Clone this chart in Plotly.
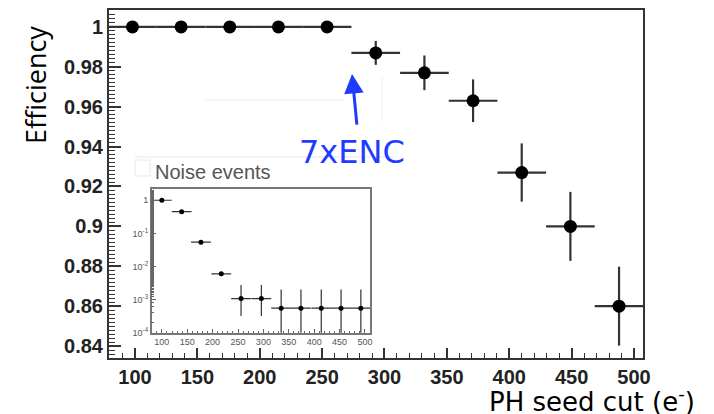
import plotly.graph_objects as go

# ---- main panel data: efficiency vs PH seed cut ----
seed_cut = [98, 137, 176, 215, 254, 293, 332, 371, 410, 449, 488]
efficiency = [1.0, 1.0, 1.0, 1.0, 1.0, 0.987, 0.977, 0.963, 0.927, 0.900, 0.860]
eff_err = [0, 0, 0, 0, 0, 0.006, 0.0087, 0.0107, 0.0146, 0.0173, 0.0198]
bin_half_width = [19.5] * 11

y_tickvals = [0.84, 0.86, 0.88, 0.90, 0.92, 0.94, 0.96, 0.98, 1.0]
y_ticktext = ["0.84", "0.86", "0.88", "0.9", "0.92", "0.94", "0.96", "0.98", "1"]
x_tickvals = [100, 150, 200, 250, 300, 350, 400, 450, 500]

# ---- inset data: noise events ----
noise_x = [100, 139, 177, 217, 256, 296, 335, 374, 414, 453, 492]
noise_frac = [1.0, 0.45, 0.054, 0.006, 0.00107, 0.00107,
              0.00055, 0.00055, 0.00055, 0.00055, 0.00055]
noise_err_plus = [0, 0, 0, 0, 0.0017, 0.0017,
                  0.00145, 0.00145, 0.00145, 0.00145, 0.00145]
noise_err_minus = [0, 0, 0, 0, 0.00075, 0.00075,
                   0.000549, 0.000549, 0.000549, 0.000549, 0.000549]
inset_y_tickvals = [1e-4, 1e-3, 1e-2, 1e-1, 1]
inset_y_ticktext = ["10<sup>-4</sup>", "10<sup>-3</sup>", "10<sup>-2</sup>", "10<sup>-1</sup>", "1"]

# page body has an 8px margin: lay the figure out in page pixels minus that offset
OFF = 8
W, H = 714 - OFF, 414 - OFF
FL, FR, FT, FB = 109 - OFF, 643 - OFF, 10 - OFF, 358 - OFF  # frame edges in figure px
L, R, T, B = FL, W - FR, FT, H - FB
PW, PH = FR - FL, FB - FT


def px(x):  # page x pixel -> paper
    return (x - OFF - FL) / PW


def py(y):  # page y pixel -> paper
    return (FB - (y - OFF)) / PH


fig = go.Figure()

fig.add_trace(go.Scatter(
    x=seed_cut, y=efficiency, mode="markers",
    marker=dict(color="black", size=13),
    error_y=dict(type="data", array=eff_err, color="#333333", thickness=2.2, width=0),
    error_x=dict(type="data", array=bin_half_width, color="#333333", thickness=2.2, width=0),
    xaxis="x", yaxis="y", showlegend=False,
))

fig.add_trace(go.Scatter(
    x=noise_x, y=noise_frac, mode="markers",
    marker=dict(color="black", size=5),
    error_y=dict(type="data", symmetric=False, array=noise_err_plus,
                 arrayminus=noise_err_minus, color="#333333", thickness=1.2, width=0),
    error_x=dict(type="data", array=bin_half_width, color="#333333", thickness=1.2, width=0),
    xaxis="x2", yaxis="y2", showlegend=False,
))

tickfont_main = dict(family="Liberation Sans", size=20, color="#222222", weight="bold")
tickfont_inset = dict(family="Liberation Sans", size=9, color="#555555")

fig.update_layout(
    width=W, height=H,
    margin=dict(l=L, r=R, t=T, b=B, autoexpand=False),
    paper_bgcolor="white", plot_bgcolor="white",
    xaxis=dict(
        domain=[0, 1], range=[79.2, 507.2], automargin=False,
        tickvals=x_tickvals, ticks="inside", ticklen=10, tickwidth=1.5, tickcolor="#333",
        minor=dict(dtick=10, tick0=0, ticks="inside", ticklen=5, tickwidth=1.2, tickcolor="#333"),
        showline=True, linecolor="#333", linewidth=2, mirror=True,
        showgrid=False, zeroline=False, tickfont=tickfont_main,
    ),
    yaxis=dict(
        domain=[0, 1], range=[0.834, 1.0085], automargin=False,
        tickvals=y_tickvals, ticktext=y_ticktext,
        ticks="inside", ticklen=12, tickwidth=1.5, tickcolor="#333",
        minor=dict(dtick=0.002, tick0=0, ticks="inside", ticklen=6, tickwidth=1.2, tickcolor="#333"),
        showline=True, linecolor="#333", linewidth=2, mirror=True,
        showgrid=False, zeroline=False, tickfont=tickfont_main,
    ),
    xaxis2=dict(
        domain=[px(151.7), px(370)], anchor="y2", range=[80, 510], automargin=False,
        tickvals=x_tickvals, ticks="inside", ticklen=4, tickcolor="#666",
        minor=dict(dtick=10, tick0=0, ticks="inside", ticklen=2, tickcolor="#666"),
        showline=True, linecolor="#777", linewidth=1.5, mirror=True,
        showgrid=False, zeroline=False, tickfont=tickfont_inset, ticklabelstandoff=0,
    ),
    yaxis2=dict(
        domain=[py(332.7), py(189.3)], anchor="x2", type="log", range=[-4, 0.33], automargin=False,
        tickvals=inset_y_tickvals, ticktext=inset_y_ticktext,
        ticks="inside", ticklen=5, tickcolor="#666",
        minor=dict(ticks="inside", ticklen=2.5, tickcolor="#666", showgrid=False),
        showline=True, linecolor="#777", linewidth=1.5, mirror=True,
        showgrid=False, zeroline=False, tickfont=tickfont_inset, ticklabelstandoff=0,
    ),
    annotations=[
        dict(text="Efficiency", xref="paper", yref="paper", x=px(35), y=py(24),
             xanchor="center", yanchor="top", textangle=-90, showarrow=False,
             font=dict(family="Open Sans", size=27, color="black")),
        dict(text="PH seed cut (e<sup>-</sup>)", xref="paper", yref="paper",
             x=px(487), y=py(400), xanchor="left", yanchor="middle", showarrow=False,
             font=dict(family="DejaVu Sans", size=26, color="black")),
        dict(text="Noise events", xref="paper", yref="paper", x=px(153), y=py(172),
             xanchor="left", yanchor="middle", showarrow=False,
             font=dict(family="Liberation Sans", size=20, color="#555555")),
        dict(text="7xENC", xref="x", yref="y", x=274, y=0.9373,
             xanchor="center", yanchor="middle", showarrow=False,
             font=dict(family="DejaVu Sans", size=32, color="#1e3cff")),
        dict(text="", xref="x", yref="y", x=274, y=0.9764, ax=5, ay=52,
             showarrow=True, arrowhead=2, arrowsize=1.3, arrowwidth=3, arrowcolor="#1e3cff"),
    ],
    shapes=[
        dict(type="line", xref="paper", yref="paper", x0=px(135), x1=px(395), y0=py(157), y1=py(157),
             line=dict(color="#e8e8e8", width=1)),
        dict(type="rect", xref="paper", yref="paper", x0=px(135), x1=px(150), y0=py(176), y1=py(160),
             line=dict(color="#e8e8e8", width=1)),
        dict(type="line", xref="paper", yref="paper", x0=px(205), x1=px(343), y0=py(100), y1=py(100),
             line=dict(color="#ececec", width=1)),
        dict(type="line", xref="paper", yref="paper", x0=px(382), x1=px(382), y0=py(77), y1=py(122),
             line=dict(color="#f0f0f0", width=1)),
    ],
)

fig.write_html("out.html")
